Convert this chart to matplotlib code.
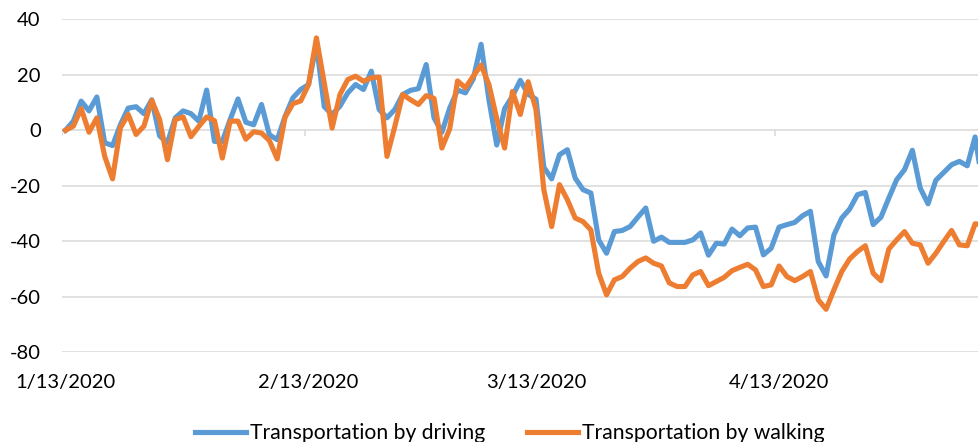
import pandas as pd
import matplotlib
matplotlib.use('Agg')
import matplotlib.pyplot as plt
import matplotlib.dates as mdates

# Apple mobility trends, % change vs 1/13/2020
start_date = '2020-01-13'
driving = [0, 3.3, 10.5, 7, 12, -4.5, -5.5, 2, 8, 8.5,
           6, 11, -2, -4.5, 4.5, 7, 6, 3.3, 14.5, -4,
           -4, 3.9, 11.3, 2.9, 2, 9.3, -1.6, -3.4, 5, 11.7,
           14.7, 16.5, 31, 8.5, 5.7, 8.7, 13.5, 16.5, 14.7, 21.3,
           7.5, 4.5, 7.5, 12.9, 14.4, 15, 23.7, 4.5, -0.7, 8,
           14.5, 13.5, 18.5, 31, 11, -5.3, 7.8, 12.3, 18, 13,
           11.2, -13.3, -17.5, -8.8, -7, -17.2, -21.4, -22.6, -39.5, -44.3,
           -36.5, -36.1, -34.7, -31.3, -28, -40, -38.5, -40.4, -40.4, -40.4,
           -39.5, -37, -45, -40.7, -41, -35.6, -38, -35.2, -34.9, -44.9,
           -42.5, -34.9, -34, -33.2, -30.8, -29.2, -47.3, -52.5, -37.7, -31.6,
           -28.4, -23.2, -22.4, -34, -31.3, -24.4, -17.8, -14.2, -7.2, -20.8,
           -26.5, -18, -15.2, -12.4, -11.2, -12.8, -2.4, -20]
walking = [0, 1.5, 7.8, -0.7, 4.5, -9.4, -17.5, 0.9, 5.7, -1.5,
           1.5, 10.8, 3.9, -10.6, 3.9, 4.8, -2.3, 1.4, 4.8, 3.5,
           -10, 3.3, 3.3, -3.2, -0.5, -1, -3.7, -10.3, 4.7, 9.6,
           10.6, 16.5, 33.3, 17, 0.8, 12.9, 18.3, 19.5, 17.7, 18.9,
           19.2, -9.4, 1.4, 12.9, 11, 9.3, 12.5, 11.5, -6.4, 0.5,
           17.8, 15.3, 19.5, 23.5, 16.5, 4.2, -6.4, 14, 5.7, 17.5,
           7.5, -21.4, -34.7, -19.6, -25, -31.6, -32.9, -35.9, -51.5, -59.3,
           -53.9, -52.7, -49.7, -47.3, -46, -47.9, -48.9, -55, -56.3, -56.3,
           -52.1, -50.9, -56, -54.5, -53, -50.6, -49.4, -48.3, -50.3, -56.3,
           -55.7, -48.9, -52.7, -54.2, -52.7, -50.9, -61.1, -64.5, -57.5, -50.9,
           -46.4, -43.7, -41.6, -51.5, -54.2, -42.8, -39.5, -36.5, -40.7, -41.3,
           -47.9, -44.3, -40.1, -36.1, -41.3, -41.6, -33.7, -34]
tick_dates = ['2020-01-13', '2020-02-13', '2020-03-13', '2020-04-13']
y_ticks = [40, 20, 0, -20, -40, -60, -80]

dates = pd.date_range(start_date, periods=len(driving), freq='D')
ticks = pd.to_datetime(tick_dates)
half = pd.Timedelta(hours=12)

plt.rcParams['font.family'] = ['Lato', 'DejaVu Sans']
plt.rcParams['axes.unicode_minus'] = False
fig = plt.figure(figsize=(9.79, 4.42), dpi=100)
ax = fig.add_axes([0.0629, 0.203, 0.9371, 0.7533])

ax.plot(dates, driving, color='#5B9BD5', lw=3.7, label='Transportation by driving',
        solid_joinstyle='round', zorder=3)
ax.plot(dates, walking, color='#ED7D31', lw=3.7, label='Transportation by walking',
        solid_joinstyle='round', zorder=4)

ax.set_ylim(-80, 40)
ax.set_xlim(dates[0] - half, dates[0] + pd.Timedelta(days=116) + half)
ax.set_yticks(y_ticks)
ax.grid(axis='y', color='#D9D9D9', lw=1.1)
ax.set_axisbelow(True)

ax.set_xticks(ticks)
ax.xaxis.set_major_formatter(mdates.DateFormatter('%-m/%d/%Y'))
ax.tick_params(axis='x', length=0, pad=16, labelsize=14.5)
ax.tick_params(axis='y', length=0, pad=15, labelsize=14.5)
ax.vlines(ticks - half, -2.2, 0, color='#D9D9D9', lw=1.1, zorder=2)

for s in ax.spines.values():
    s.set_visible(False)

fig.legend(loc='lower center', bbox_to_anchor=(0.521, -0.045), ncol=2, frameon=False,
           fontsize=15.2, handlelength=2.4, handletextpad=0.2, columnspacing=2.0)

fig.savefig('out.png', dpi=100)
